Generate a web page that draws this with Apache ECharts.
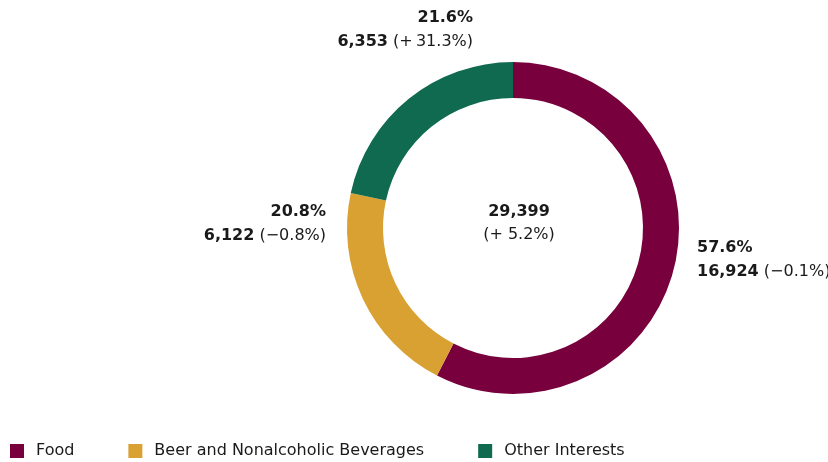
<!DOCTYPE html>
<html>
<head>
<meta charset="utf-8">
<script src="https://cdn.jsdelivr.net/npm/echarts@6/dist/echarts.min.js"></script>
<style>html,body{margin:0;padding:0;background:#fff}#c{width:828px;height:462px}</style>
</head>
<body>
<div id="c"></div>
<script>
const categories = ['Food', 'Beer and Nonalcoholic Beverages', 'Other Interests'];
const values = [16924, 6122, 6353];
const shares = ['57.6%', '20.8%', '21.6%'];
const changes = ['(\u22120.1%)', '(\u22120.8%)', '(+\u200931.3%)'];
const totalLabel = '29,399';
const totalChange = '(+ 5.2%)';
const colors = ['#78003C', '#D9A032', '#106A50'];

const FONT = '"DejaVu Sans", sans-serif';
const fmt = v => v.toLocaleString('en-US');

// label anchor positions (layout only)
const labelPos = [
  {x: 697, y: 260, align: 'left'},
  {x: 326, y: 224, align: 'right'},
  {x: 473, y: 30, align: 'right'}
];

const chart = echarts.init(document.getElementById('c'), null, {renderer: 'canvas'});
chart.setOption({
  animation: false,
  color: colors,
  title: {
    text: totalLabel,
    subtext: totalChange,
    left: 514,
    top: 199,
    textAlign: 'center',
    itemGap: 7,
    textStyle: {fontFamily: FONT, fontSize: 16, fontWeight: 'bold', color: '#1a1a1a'},
    subtextStyle: {fontFamily: FONT, fontSize: 16, color: '#1a1a1a'}
  },
  legend: {
    data: categories,
    left: 5,
    top: 438,
    icon: 'rect',
    itemWidth: 14,
    itemHeight: 14,
    itemGap: 54,
    selectedMode: false,
    textStyle: {fontFamily: FONT, fontSize: 16, color: '#1a1a1a', padding: [0, 0, 0, 7]}
  },
  series: [{
    type: 'pie',
    center: [513, 228],
    radius: [130, 166],
    startAngle: 90,
    clockwise: true,
    silent: true,
    labelLine: {show: false},
    label: {
      show: true,
      position: 'outside',
      overflow: 'none',
      fontFamily: FONT,
      fontSize: 16,
      color: '#1a1a1a',
      lineHeight: 24,
      formatter: p => '{b|' + shares[p.dataIndex] + '}\n{b|' + fmt(values[p.dataIndex]) + '} {n|' + changes[p.dataIndex] + '}',
      rich: {
        b: {fontFamily: FONT, fontSize: 16, fontWeight: 'bold', color: '#1a1a1a', lineHeight: 24},
        n: {fontFamily: FONT, fontSize: 16, color: '#1a1a1a', lineHeight: 24}
      }
    },
    labelLayout: p => ({
      x: labelPos[p.dataIndex].x,
      y: labelPos[p.dataIndex].y,
      align: labelPos[p.dataIndex].align,
      verticalAlign: 'middle'
    }),
    data: categories.map((c, i) => ({name: c, value: values[i]}))
  }]
});
</script>
</body>
</html>
